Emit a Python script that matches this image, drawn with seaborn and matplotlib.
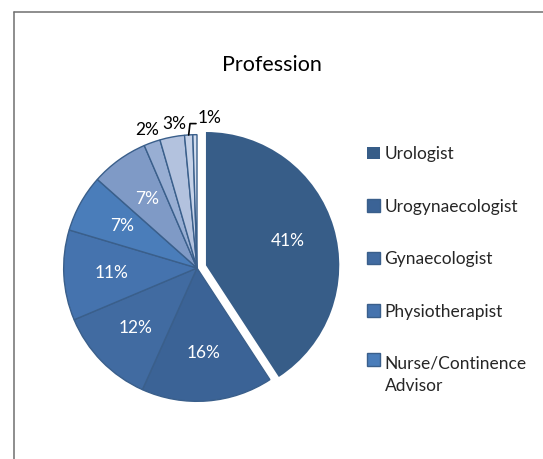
import numpy as np
import matplotlib
matplotlib.use("Agg")
import matplotlib.pyplot as plt
import seaborn as sns
from matplotlib.lines import Line2D

# data
professions = ["Urologist", "Urogynaecologist", "Gynaecologist",
               "Physiotherapist", "Nurse/Continence\nAdvisor"]
shares = [41, 16, 12, 11, 7, 7, 2, 3, 1, 0.5]
pct_labels = ["41%", "16%", "12%", "11%", "7%", "7%", "2%", "3%", "1%", ""]

colors = ["#375d88", "#3b6396", "#416ba1", "#4573ae", "#4a7dba",
          "#7f9ac6", "#98aed3", "#b3c2de", "#c6d2e8", "#d3ddee"]

sns.set_theme(style="white")
plt.rcParams["font.family"] = ["Lato", "DejaVu Sans"]

fig = plt.figure(figsize=(5.43, 4.59), dpi=100)
fig.patch.set_facecolor("white")

# chart frame (left and top edges visible)
fig.add_artist(Line2D([14 / 543, 14 / 543], [0, 1 - 12 / 459],
                      transform=fig.transFigure, color="#6f6f6f", lw=1.1))
fig.add_artist(Line2D([14 / 543, 1], [1 - 12 / 459, 1 - 12 / 459],
                      transform=fig.transFigure, color="#6f6f6f", lw=1.1))

ax = fig.add_axes([37 / 543, 31 / 459, 320 / 543, 320 / 459])
explode = [0.07] + [0] * (len(shares) - 1)
wedges, _ = ax.pie(shares, colors=colors, startangle=90, counterclock=False,
                   explode=explode,
                   wedgeprops=dict(edgecolor="#3a5f8b", linewidth=1.0))
wedges[0].set_linewidth(0.0)
ax.set_xlim(-1.2, 1.2)
ax.set_ylim(-1.2, 1.2)
ax.set_aspect("equal")
ax.axis("off")

fs = 12.5
for i, (w, lab) in enumerate(zip(wedges, pct_labels)):
    if not lab:
        continue
    ang = np.deg2rad((w.theta1 + w.theta2) / 2)
    cx, cy = w.center
    if shares[i] >= 5:
        r = 0.64
        ax.text(cx + r * np.cos(ang), cy + r * np.sin(ang), lab,
                ha="center", va="center", color="white", fontsize=fs)
    elif lab == "1%":
        x0, y0 = np.cos(ang), np.sin(ang)
        ax.plot([x0, x0 + 0.01, x0 + 0.055], [y0, y0 + 0.085, y0 + 0.085],
                color="black", lw=1.2)
        ax.text(x0 + 0.065, y0 + 0.07, lab, ha="left", va="bottom",
                color="black", fontsize=fs)
    else:
        r = 1.1
        ax.annotate(lab, (r * np.cos(ang), r * np.sin(ang)),
                    xytext=(3 if lab == "3%" else 0, 0),
                    textcoords="offset points", ha="center", va="center",
                    color="black", fontsize=fs)

fig.text(272 / 543, 1 - 65 / 459, "Profession", ha="center", va="center",
         fontsize=15.5, color="black")

leg = fig.legend(wedges[:5], professions, loc="upper left",
                 bbox_to_anchor=(355 / 543, 1 - 134 / 459), frameon=False,
                 fontsize=fs, handlelength=0.75, handleheight=0.75,
                 handletextpad=0.25, labelspacing=2.1, borderpad=0.2)
for t in leg.get_texts():
    t.set_linespacing(1.45)
# the two-line entry keeps its square next to the first line
last = leg.legend_handles[-1]
last.set_y(last.get_y() + 11.5)

fig.savefig("out.png", dpi=100, facecolor="white")
